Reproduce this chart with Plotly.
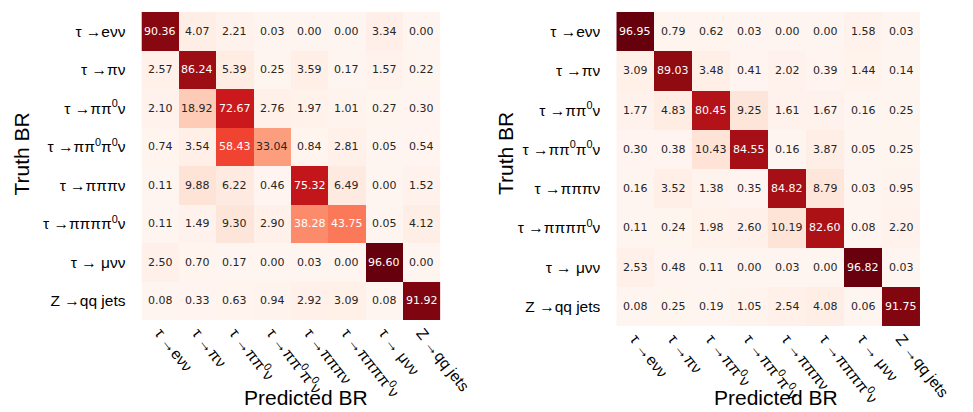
import plotly.graph_objects as go

labels = ["τ →eνν", "τ →πν", "τ →ππ<sup>0</sup>ν", "τ →ππ<sup>0</sup>π<sup>0</sup>ν",
          "τ →πππν", "τ →ππππ<sup>0</sup>ν", "τ → μνν", "Z →qq jets"]

left_values = [
    [90.36, 4.07, 2.21, 0.03, 0.00, 0.00, 3.34, 0.00],
    [2.57, 86.24, 5.39, 0.25, 3.59, 0.17, 1.57, 0.22],
    [2.10, 18.92, 72.67, 2.76, 1.97, 1.01, 0.27, 0.30],
    [0.74, 3.54, 58.43, 33.04, 0.84, 2.81, 0.05, 0.54],
    [0.11, 9.88, 6.22, 0.46, 75.32, 6.49, 0.00, 1.52],
    [0.11, 1.49, 9.30, 2.90, 38.28, 43.75, 0.05, 4.12],
    [2.50, 0.70, 0.17, 0.00, 0.03, 0.00, 96.60, 0.00],
    [0.08, 0.33, 0.63, 0.94, 2.92, 3.09, 0.08, 91.92],
]

right_values = [
    [96.95, 0.79, 0.62, 0.03, 0.00, 0.00, 1.58, 0.03],
    [3.09, 89.03, 3.48, 0.41, 2.02, 0.39, 1.44, 0.14],
    [1.77, 4.83, 80.45, 9.25, 1.61, 1.67, 0.16, 0.25],
    [0.30, 0.38, 10.43, 84.55, 0.16, 3.87, 0.05, 0.25],
    [0.16, 3.52, 1.38, 0.35, 84.82, 8.79, 0.03, 0.95],
    [0.11, 0.24, 1.98, 2.60, 10.19, 82.60, 0.08, 2.20],
    [2.53, 0.48, 0.11, 0.00, 0.03, 0.00, 96.82, 0.03],
    [0.08, 0.25, 0.19, 1.05, 2.54, 4.08, 0.06, 91.75],
]

idx = list(range(len(labels)))

fig = go.Figure()
annotations = []
for k, (vals, xa, ya) in enumerate([(left_values, "x", "y"), (right_values, "x2", "y2")]):
    vmax = max(max(r) for r in vals)
    fig.add_trace(go.Heatmap(
        z=vals, x=idx, y=idx, colorscale="Reds", zmin=0, zmax=vmax,
        showscale=False, xaxis=xa, yaxis=ya, hoverinfo="skip", xgap=0, ygap=0,
    ))
    for i, row in enumerate(vals):
        for j, v in enumerate(row):
            annotations.append(dict(
                x=j, y=i, xref=xa, yref=ya, text=f"{v:.2f}", showarrow=False,
                font=dict(family="DejaVu Sans", size=11,
                          color="white" if v > 0.38 * vmax else "#262626"),
            ))

lab_font = dict(family="Liberation Sans", size=15.5, color="black")
title_font = dict(family="Liberation Sans", size=21, color="black")

W, H = 973, 412
titles = [(13, 146, "Truth BR", -90), (514, 146, "Truth BR", -90),
          (308, 389, "Predicted BR", 0), (794, 389, "Predicted BR", 0)]
for px, py, txt, ang in titles:
    annotations.append(dict(x=px / W, y=1 - py / H, xref="paper", yref="paper",
                            xanchor="center", yanchor="middle",
                            text=txt, textangle=ang, showarrow=False, font=title_font))

def xax(dom, anchor):
    return dict(domain=dom, range=[-0.5, 7.5], tickmode="array", tickvals=idx,
                ticktext=labels, tickangle=52, ticks="", showgrid=False,
                zeroline=False, showline=False, tickfont=lab_font,
                ticklabelstandoff=0, anchor=anchor)

def yax(dom, anchor):
    return dict(domain=dom, range=[7.5, -0.5], tickmode="array", tickvals=idx,
                ticktext=labels, ticks="", showgrid=False, zeroline=False,
                showline=False, tickfont=lab_font, ticklabelstandoff=15,
                anchor=anchor)

fig.update_layout(
    width=W, height=H, margin=dict(l=0, r=0, t=0, b=0),
    paper_bgcolor="white", plot_bgcolor="white",
    xaxis=xax([138 / W, 447 / W], "y"),
    yaxis=yax([1 - 312 / H, 1 - 4 / H], "x"),
    xaxis2=xax([629 / W, 943 / W], "y2"),
    yaxis2=yax([1 - 318 / H, 1 - 4 / H], "x2"),
    annotations=annotations,
    showlegend=False,
)

fig.write_html("out.html")
